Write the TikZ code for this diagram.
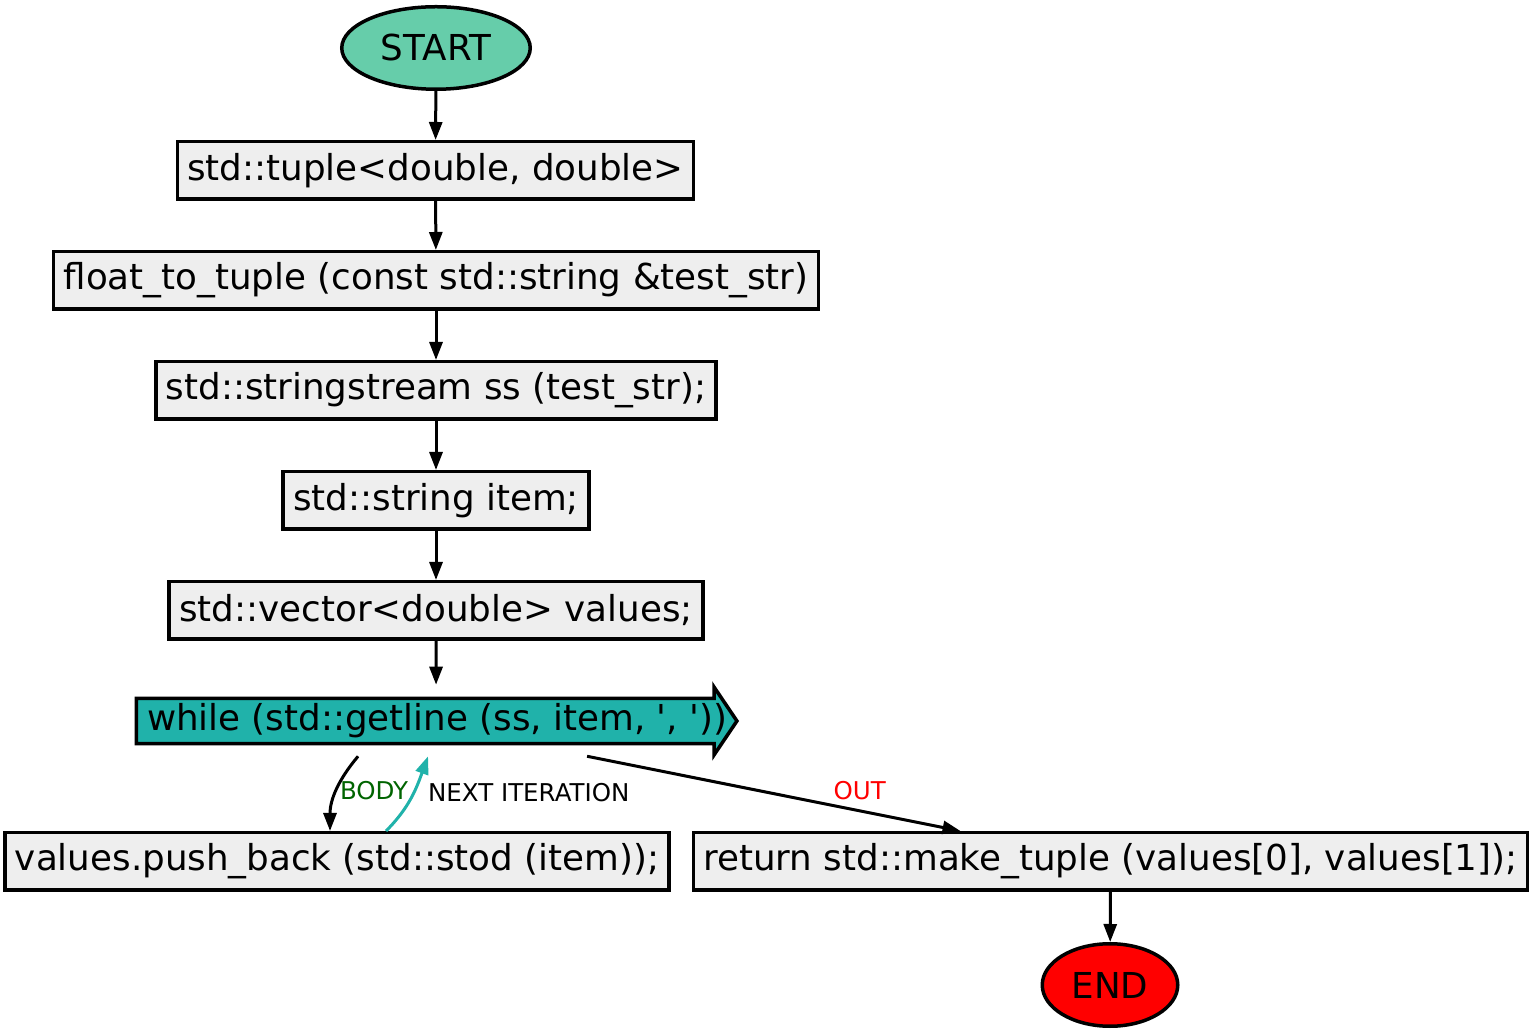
\documentclass[tikz,border=0pt]{standalone}
\usepackage{fontspec}
\setmainfont{DejaVu Sans}[Ligatures=TeXOff]
\usepackage{xcolor}
\usepackage{tikz}
\usetikzlibrary{shapes.geometric,shapes.arrows,arrows.meta}
\definecolor{startgreen}{RGB}{102,205,170}
\definecolor{loopcyan}{RGB}{32,178,170}
\definecolor{boxgrey}{RGB}{238,238,238}
\definecolor{bodygreen}{RGB}{0,100,0}
\tikzstyle{stmt} = [draw,line width=3.5pt,fill=boxgrey,minimum height=57.5pt,inner xsep=10pt,font=\fontsize{35.7}{42}\selectfont]
\tikzstyle{terminal} = [ellipse,draw,line width=3.5pt,minimum height=82.5pt,inner sep=0pt,font=\fontsize{35.7}{42}\selectfont]
\tikzstyle{arrow} = [line width=3pt,-{Triangle[length=18pt,width=13pt]}]
\tikzstyle{lbl} = [font=\fontsize{24.5}{28}\selectfont,inner sep=2pt]

\begin{document}
\begin{tikzpicture}[x=1pt,y=1pt]
          \useasboundingbox (0,0) rectangle (1533,1033);
          % nodes
          \node[terminal,fill=startgreen,minimum width=188.5pt] (start) at (436,985) {START};
          \node[stmt] (tuple) at (435.5,862.5) {std::tuple<double, double>};
          \node[stmt] (sig) at (436,752.5) {float\_to\_tuple (const std::string \&test\_str)};
          \node[stmt] (stream) at (436,642.5) {std::stringstream ss (test\_str);};
          \node[stmt] (item) at (436,532.5) {std::string item;};
          \node[stmt] (vec) at (436,422.5) {std::vector<double> values;};
          \node[single arrow,draw,line width=3.5pt,fill=loopcyan,single arrow head extend=11.5pt,single arrow tip angle=112,inner ysep=3.5pt,inner xsep=9pt,font=\fontsize{35.7}{42}\selectfont] (loop) at (429,312) {\makebox[564pt][l]{while (std::getline (ss, item, ', '))}};
          \node[stmt] (push) at (337,171.5) {values.push\_back (std::stod (item));};
          \node[stmt] (ret) at (1110.5,171.5) {return std::make\_tuple (values[0], values[1]);};
          \node[terminal,fill=red,minimum width=135.5pt] (end) at (1110,48) {END};
          % connectors
          \draw[arrow] (start) -- (tuple);
          \draw[arrow] (tuple) -- (sig);
          \draw[arrow] (sig) -- (stream);
          \draw[arrow] (stream) -- (item);
          \draw[arrow] (item) -- (vec);
          \draw[arrow] (vec) -- ([xshift=7pt,yshift=12pt]loop.north);
          \draw[arrow] ([xshift=-71pt,yshift=-11pt]loop.south) to[out=230,in=90] node[lbl,text=bodygreen,pos=0.5,right] (bodylbl) {BODY} ([xshift=-7pt]push.north);
          \draw[arrow,loopcyan] ([xshift=49pt]push.north) to[out=45,in=250] node[lbl,text=black,pos=0.5,right,xshift=13pt,yshift=4pt] (nextlbl) {NEXT ITERATION} ([xshift=-1pt,yshift=-11pt]loop.south);
          \draw[arrow] ([xshift=158pt,yshift=-11pt]loop.south) -- node[lbl,text=red,pos=0.73,above,yshift=7pt] (outlbl) {OUT} ([xshift=-150pt]ret.north);
          \draw[arrow] (ret) -- (end);
\end{tikzpicture}
\end{document}
